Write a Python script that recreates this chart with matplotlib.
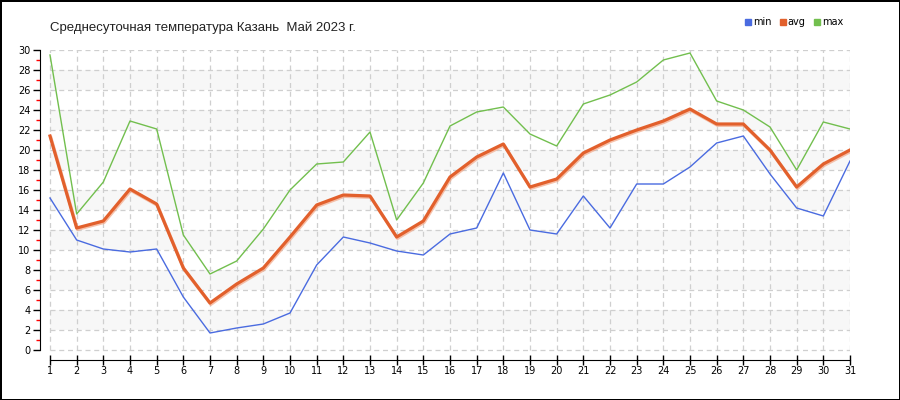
import matplotlib.pyplot as plt
import matplotlib.patheffects as pe
from matplotlib.lines import Line2D

# дни месяца и температуры
days = list(range(1, 32))
t_min = [15.2, 11.0, 10.1, 9.8, 10.1, 5.3, 1.7, 2.2, 2.6, 3.7,
         8.5, 11.3, 10.7, 9.9, 9.5, 11.6, 12.2, 17.7, 12.0, 11.6,
         15.4, 12.2, 16.6, 16.6, 18.3, 20.7, 21.4, 17.6, 14.2, 13.4, 18.9]
t_avg = [21.4, 12.2, 12.9, 16.1, 14.6, 8.2, 4.7, 6.6, 8.2, 11.3,
         14.5, 15.5, 15.4, 11.3, 12.9, 17.3, 19.3, 20.6, 16.3, 17.1,
         19.7, 21.0, 22.0, 22.9, 24.1, 22.6, 22.6, 20.0, 16.3, 18.6, 20.0]
t_max = [29.5, 13.6, 16.8, 22.9, 22.1, 11.5, 7.6, 8.9, 12.1, 16.0,
         18.6, 18.8, 21.8, 13.0, 16.7, 22.4, 23.8, 24.3, 21.6, 20.4,
         24.6, 25.5, 26.8, 29.0, 29.7, 24.9, 24.0, 22.3, 18.0, 22.8, 22.1]
y_ticks = list(range(0, 31, 2))
title = 'Среднесуточная температура Казань  Май 2023 г.'

c_min = '#4a6be0'
c_avg = '#e2602c'
c_max = '#72bf4e'

fig = plt.figure(figsize=(9, 4), dpi=100, linewidth=2, edgecolor='black')
ax = fig.add_axes([40 / 900, 0.1, 810 / 900, 0.775])

ax.set_xlim(0.625, 31)
ax.set_ylim(-1, 30)

# полосы фона
for y0 in range(2, 30, 4):
    ax.fill_between([days[0], days[-1]], y0, y0 + 2, color='#f7f7f7', lw=0, zorder=0)

# сетка
ax.hlines(y_ticks, days[0], days[-1], colors='#cfcfcf', linestyles=(0, (4, 3)), lw=0.9, zorder=1)
ax.vlines(days, 0, 30, colors='#cfcfcf', linestyles=(0, (4, 3)), lw=0.9, zorder=1)

ax.plot(days, t_min, color=c_min, lw=1, zorder=3)
ax.plot(days, t_max, color=c_max, lw=1, zorder=3)
ax.plot(days, t_avg, color=c_avg, lw=2.3, zorder=4,
        path_effects=[pe.SimpleLineShadow(offset=(0.6, -1), shadow_color='#f3a888', alpha=0.7),
                      pe.Normal()])

# оси
for s in ['top', 'right']:
    ax.spines[s].set_visible(False)
ax.spines['left'].set_bounds(0, 30)
ax.spines['bottom'].set_bounds(days[0], days[-1])

ax.set_yticks(y_ticks)
ax.set_yticks(range(1, 30, 2), minor=True)
ax.tick_params(axis='y', which='major', length=5, width=1, labelsize=7, pad=2)
ax.tick_params(axis='y', which='minor', length=3, width=1, color='red')
ax.set_xticks(days)
ax.tick_params(axis='x', which='major', direction='inout', length=7, width=1, labelsize=7, pad=1)

fig.text(50 / 900, 0.93, title, fontsize=9.5, family='Liberation Sans', color='#222222',
         va='center', ha='left')

handles = [Line2D([], [], ls='', marker='s', markersize=5, color=c) for c in (c_min, c_avg, c_max)]
fig.legend(handles, ['min', 'avg', 'max'], loc='center', bbox_to_anchor=(0.882, 0.945),
           ncol=3, frameon=False, fontsize=7, handletextpad=0.1, columnspacing=0.8,
           handlelength=0.8)

plt.savefig('out.png', dpi=100)
